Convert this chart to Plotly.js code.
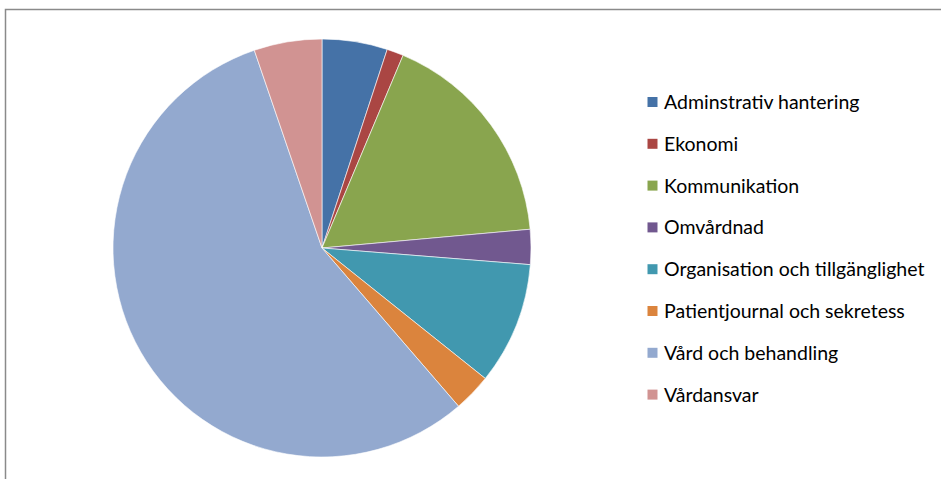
<!DOCTYPE html>
<html>
<head>
<meta charset="utf-8">
<script src="https://cdn.plot.ly/plotly-3.0.1.min.js"></script>
<style>
  html, body { margin: 0; padding: 0; background: #fff; }
  #chart { width: 941px; height: 479px; }
  #chart text { font-variant-ligatures: none; }
</style>
</head>
<body>
<div id="chart"></div>
<script>
// Kategorier och andelar (procent)
const labels = [
    'Adminstrativ hantering',
    'Ekonomi',
    'Kommunikation',
    'Omvårdnad',
    'Organisation och tillgänglighet',
    'Patientjournal och sekretess',
    'Vård och behandling',
    'Vårdansvar'
];
const values = [5.05, 1.29, 17.23, 2.70, 9.46, 2.94, 56.08, 5.25];
const colors = ['#4572A7', '#AA4643', '#89A54E', '#71588F', '#4198AF', '#DB843D', '#93A9CF', '#D19392'];

const W = 941, H = 479;

const pie = {
    type: 'pie',
    labels: labels,
    values: values,
    sort: false,
    direction: 'clockwise',
    rotation: 0,
    textinfo: 'none',
    hoverinfo: 'label+percent',
    showlegend: false,
    marker: { colors: colors, line: { color: '#ffffff', width: 0.6 } },
    domain: { x: [113 / W, 531 / W], y: [22 / H, 440 / H] }
};

// Egen legend: rutor + text, en rad per kategori
const shapes = [{
    type: 'rect', xref: 'paper', yref: 'paper',
    x0: 5.5 / W, x1: 1.05, y0: -0.05, y1: 1 - 9.5 / H,
    line: { color: '#8a8a8a', width: 1.5 }
}];
const annotations = [];
labels.forEach((lab, i) => {
    const yc = 102 + i * 41.8;
    shapes.push({
        type: 'rect', xref: 'paper', yref: 'paper',
        x0: 647.5 / W, x1: 657.5 / W,
        y0: 1 - (yc + 5) / H, y1: 1 - (yc - 5) / H,
        fillcolor: colors[i], line: { width: 0 }
    });
    annotations.push({
        xref: 'paper', yref: 'paper',
        x: 662 / W, y: 1 - (yc - 0.5) / H,
        xanchor: 'left', yanchor: 'middle',
        text: lab, showarrow: false,
        font: { family: 'Lato, sans-serif', size: 19.5, color: '#000' }
    });
});

const layout = {
    width: W,
    height: H,
    margin: { l: 0, r: 0, t: 0, b: 0 },
    paper_bgcolor: '#ffffff',
    showlegend: false,
    shapes: shapes,
    annotations: annotations
};

Plotly.newPlot('chart', [pie], layout, { displayModeBar: false, staticPlot: true });
</script>
</body>
</html>
